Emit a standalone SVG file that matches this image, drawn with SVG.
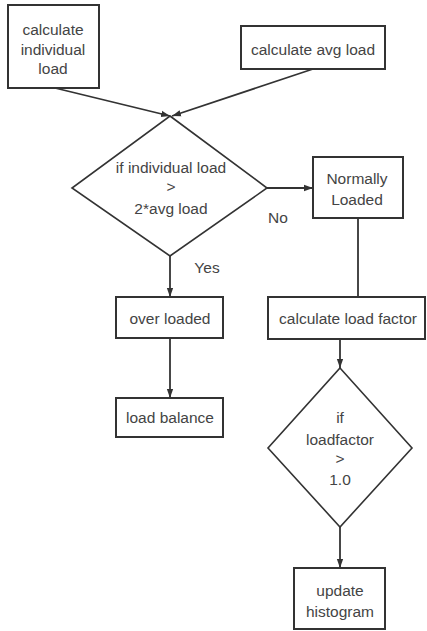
<svg xmlns="http://www.w3.org/2000/svg" width="427" height="631" viewBox="0 0 427 631">
<defs>
<marker id="ah" viewBox="0 0 10 10" refX="10" refY="5" markerWidth="9" markerHeight="9" markerUnits="userSpaceOnUse" orient="auto">
<path d="M0,1.5 L10,5 L0,8.5 z" fill="#333"/>
</marker>
<style>
.box{fill:#fff;stroke:#333;stroke-width:2}
.dia{fill:#fff;stroke:#333;stroke-width:1.6}
.t{font-family:"Liberation Sans",Arial,sans-serif;font-size:15.5px;fill:#444;text-anchor:middle}
.c{fill:none;stroke:#333;stroke-width:1.8}
.ca{fill:none;stroke:#333;stroke-width:1.8;marker-end:url(#ah)}
</style>
</defs>
<rect width="427" height="631" fill="#fff"/>
<g id="connectors">
<line class="ca" x1="55" y1="88" x2="170" y2="116"/>
<line class="ca" x1="313" y1="69" x2="172" y2="116"/>
<line class="ca" x1="267" y1="188" x2="313" y2="188"/>
<line class="ca" x1="170" y1="256" x2="170" y2="297"/>
<line class="c" x1="358" y1="218" x2="358" y2="297"/>
<line class="ca" x1="170" y1="338" x2="170" y2="398"/>
<line class="ca" x1="340" y1="339" x2="340" y2="368"/>
<line class="ca" x1="340" y1="527" x2="340" y2="568"/>
<text class="t" x="278" y="223">No</text>
<text class="t" x="207" y="273">Yes</text>
</g>
<g id="n1">
<rect class="box" x="8" y="5" width="91" height="83"/>
<text class="t" x="53" y="35">calculate</text>
<text class="t" x="53" y="55">individual</text>
<text class="t" x="53" y="74">load</text>
</g>
<g id="n2">
<rect class="box" x="241" y="26" width="144" height="43"/>
<text class="t" x="313" y="55">calculate avg load</text>
</g>
<g id="d1">
<polygon class="dia" points="170,116 267,188 170,256 72,188"/>
<text class="t" x="171" y="173">if individual load</text>
<text class="t" x="171" y="192">&gt;</text>
<text class="t" x="171" y="214">2*avg load</text>
</g>
<g id="n3">
<rect class="box" x="313" y="157" width="90" height="61"/>
<text class="t" x="357" y="184">Normally</text>
<text class="t" x="357" y="205">Loaded</text>
</g>
<g id="n4">
<rect class="box" x="116" y="297" width="107" height="41"/>
<text class="t" x="170" y="324">over loaded</text>
</g>
<g id="n5">
<rect class="box" x="268" y="297" width="157" height="42"/>
<text class="t" x="348" y="324">calculate load factor</text>
</g>
<g id="n6">
<rect class="box" x="116" y="398" width="107" height="39"/>
<text class="t" x="170" y="423">load balance</text>
</g>
<g id="d2">
<polygon class="dia" points="340,368 412,448 340,527 268,448"/>
<text class="t" x="340" y="423">if</text>
<text class="t" x="340" y="445">loadfactor</text>
<text class="t" x="340" y="464">&gt;</text>
<text class="t" x="340" y="485">1.0</text>
</g>
<g id="n7">
<rect class="box" x="294" y="568" width="91" height="61"/>
<text class="t" x="340" y="596">update</text>
<text class="t" x="340" y="617">histogram</text>
</g>
</svg>
